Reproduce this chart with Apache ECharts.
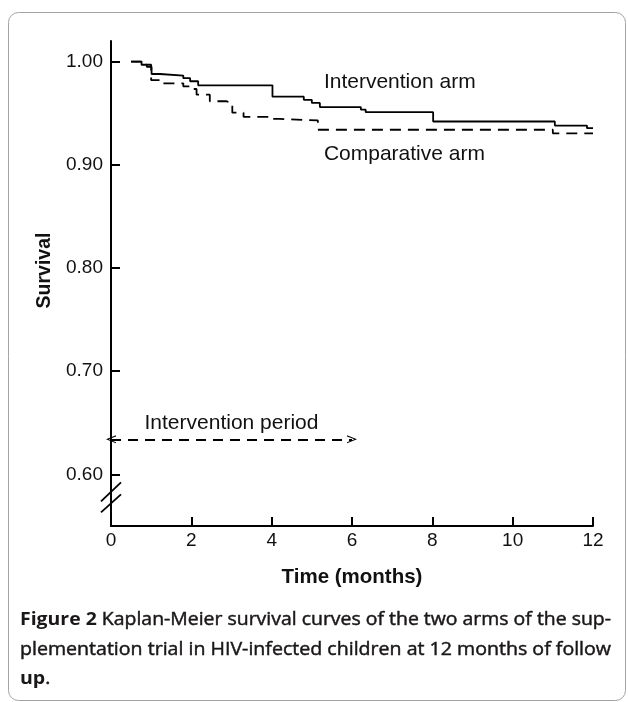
<!DOCTYPE html>
<html><head><meta charset="utf-8">
<script src="https://cdn.jsdelivr.net/npm/echarts@6/dist/echarts.min.js"></script>
<style>html,body{margin:0;padding:0;background:#fff}#c{width:628px;height:702px}</style>
</head><body><div id="c"></div>
<script>
// ---- data ----
const timeTicks = [0, 2, 4, 6, 8, 10, 12];
const survivalTicks = [0.60, 0.70, 0.80, 0.90, 1.00];
const interventionTimes = [0.5, 0.76, 0.89, 1.01, 1.22, 1.80, 1.97, 2.17, 4.02, 4.80, 5.00, 5.20, 6.22, 6.34, 8.02, 11.05, 11.85, 12.0];
const interventionSurv  = [1.000, 0.997, 0.995, 0.988, 0.9865, 0.984, 0.981, 0.977, 0.966, 0.963, 0.960, 0.956, 0.9535, 0.951, 0.942, 0.938, 0.9355, 0.9355];
const comparativeTimes = [0.5, 0.76, 1.00, 1.22, 1.80, 1.97, 2.13, 2.46, 2.88, 3.02, 3.30, 4.00, 4.20, 5.15, 11.0, 12.0];
const comparativeSurv  = [1.000, 0.997, 0.982, 0.979, 0.976, 0.9735, 0.968, 0.9616, 0.960, 0.9505, 0.9465, 0.9445, 0.943, 0.934, 0.9305, 0.9305];
const curveNames = ['Intervention arm', 'Comparative arm'];
const curveLabelAt = [[5.3, 0.9797], [5.3, 0.910]];
const periodLabel = 'Intervention period';
const periodRange = [0, 6];
const periodLevel = 0.634;
const xAxisName = 'Time (months)';
const yAxisName = 'Survival';
const captionBold1 = 'Figure 2';
const captionRest1 = ' Kaplan-Meier survival curves of the two arms of the sup-';
const captionLine2 = 'plementation trial in HIV-infected children at 12 months of follow';
const captionBold3 = 'up';
const captionRest3 = '.';

const FONT = '"Liberation Sans", Arial, sans-serif';
const INK = '#111';
const chevron = 'path://M0,10 L5,0 L10,10 L8.6,10 L5,2.6 L1.4,10 Z';

function zip(a, b) { return a.map((v, i) => [v, b[i]]); }

const chart = echarts.init(document.getElementById('c'), null, {renderer: 'canvas'});

const labelStyle = {show: true, position: 'right', distance: 0, color: INK, fontSize: 21, fontFamily: FONT, formatter: p => p.name};

chart.setOption({
  animation: false,
  backgroundColor: '#fff',
  grid: {left: 111, right: 35, top: 41, bottom: 176, outerBoundsMode: 'none', containLabel: false},
  xAxis: {
    type: 'value', min: 0, max: 12, interval: 2,
    name: xAxisName, nameLocation: 'middle', nameGap: 41,
    nameTextStyle: {fontFamily: FONT, fontSize: 20.5, fontWeight: 'bold', color: INK},
    axisLine: {show: true, onZero: false, lineStyle: {color: '#000', width: 2}},
    axisTick: {show: true, inside: true, length: 9, lineStyle: {color: '#000', width: 2}},
    axisLabel: {fontFamily: FONT, fontSize: 19, color: INK, margin: 5, formatter: v => String(v)},
    splitLine: {show: false}
  },
  yAxis: {
    type: 'value', min: 0.55, max: 1.02,
    name: yAxisName, nameLocation: 'middle', nameGap: 36,
    nameTextStyle: {fontFamily: FONT, fontSize: 19.5, fontWeight: 'bold', color: INK, padding: [0, 0, 0, 26]},
    axisLine: {show: true, onZero: false, lineStyle: {color: '#000', width: 2}},
    axisTick: {show: true, inside: true, length: 9, customValues: survivalTicks, lineStyle: {color: '#000', width: 2}},
    axisLabel: {fontFamily: FONT, fontSize: 19, color: INK, margin: 8, customValues: survivalTicks, formatter: v => v.toFixed(2)},
    splitLine: {show: false}
  },
  series: [
    {
      name: curveNames[0], type: 'line', step: 'end', symbol: 'none', silent: true,
      data: zip(interventionTimes, interventionSurv),
      lineStyle: {color: '#000', width: 1.8},
      emphasis: {disabled: true},
      markPoint: {symbol: 'circle', symbolSize: 0, silent: true, label: labelStyle,
        data: [{name: curveNames[0], coord: curveLabelAt[0]}]}
    },
    {
      name: curveNames[1], type: 'line', step: 'end', symbol: 'none', silent: true,
      data: zip(comparativeTimes, comparativeSurv),
      lineStyle: {color: '#000', width: 1.8, type: [11, 7]},
      emphasis: {disabled: true},
      markPoint: {symbol: 'circle', symbolSize: 0, silent: true, label: labelStyle,
        data: [{name: curveNames[1], coord: curveLabelAt[1]}]},
      markLine: {
        silent: true, symbol: [chevron, chevron], symbolSize: [8, 10],
        lineStyle: {color: '#000', width: 1.8, type: [10, 7]},
        emphasis: {disabled: true},
        label: {show: true, position: 'middle', distance: 6, formatter: periodLabel, color: INK, fontSize: 21, fontFamily: FONT},
        data: [[{coord: [periodRange[0], periodLevel]}, {coord: [periodRange[1], periodLevel]}]]
      }
    }
  ]
});

// axis break marks and caption card
const p06 = chart.convertToPixel({gridIndex: 0}, [0, survivalTicks[0]]);
const ax = p06[0], y0 = p06[1];
const CAP_SIZE = 18;
const capFontR = CAP_SIZE + 'px "Open Sans"';
const capFontB = 'bold ' + CAP_SIZE + 'px "Open Sans"';
const cv = document.createElement('canvas').getContext('2d');
function w(t, f) { cv.font = f; return cv.measureText(t).width; }
const capLeft = 20, capWidth = 591;
const wB1 = w(captionBold1, capFontB), wR1 = w(captionRest1, capFontR);
const s1 = capWidth / (wB1 + wR1);
const wL2 = w(captionLine2, capFontR);
const s2 = capWidth / wL2;
const wB3 = w(captionBold3, capFontB);
const CAP = '#1a1718';
function capText(x, y, t, bold, sx) {
  return {type: 'text', x: x, y: y, scaleX: sx, silent: true,
    style: {text: t, fontFamily: 'Open Sans', fontSize: CAP_SIZE, fontWeight: bold ? 'bold' : 'normal', fill: CAP,
      stroke: bold ? null : CAP, lineWidth: bold ? 0 : 0.45, verticalAlign: 'middle', align: 'left'}};
}
chart.setOption({
  graphic: [
    {type: 'rect', silent: true, shape: {x: 8.5, y: 12.5, width: 617, height: 688, r: 10}, style: {fill: 'none', stroke: '#a3a3a3', lineWidth: 1}},
    {type: 'rect', silent: true, shape: {x: ax - 3, y: y0 + 18, width: 6, height: 11}, style: {fill: '#fff'}},
    {type: 'line', silent: true, shape: {x1: ax - 10, y1: y0 + 27, x2: ax + 10, y2: y0 + 8}, style: {stroke: '#000', lineWidth: 1.8}},
    {type: 'line', silent: true, shape: {x1: ax - 10, y1: y0 + 38, x2: ax + 10, y2: y0 + 20}, style: {stroke: '#000', lineWidth: 1.8}},
    capText(capLeft, 620, captionBold1, true, s1),
    capText(capLeft + wB1 * s1, 620, captionRest1, false, s1),
    capText(capLeft, 650, captionLine2, false, s2),
    capText(capLeft, 679, captionBold3, true, s2),
    capText(capLeft + wB3 * s2, 679, captionRest3, false, s2)
  ]
});
</script>
</body></html>
